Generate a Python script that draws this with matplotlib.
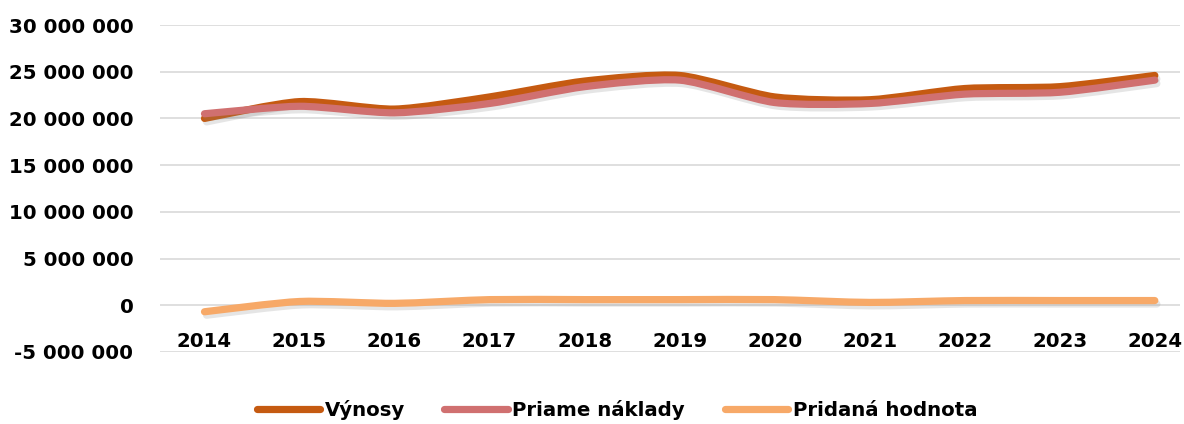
import matplotlib
matplotlib.use("Agg")
import matplotlib.pyplot as plt
import matplotlib.patheffects as pe
from matplotlib.path import Path
from matplotlib.patches import PathPatch
from matplotlib.lines import Line2D
from matplotlib.ticker import FuncFormatter
import numpy as np

years = ['2014', '2015', '2016', '2017', '2018', '2019', '2020', '2021', '2022', '2023', '2024']
vynosy = [20.0, 21.8, 21.0, 22.3, 24.0, 24.6, 22.3, 22.0, 23.2, 23.4, 24.6]
naklady = [20.5, 21.3, 20.6, 21.6, 23.4, 24.1, 21.7, 21.6, 22.6, 22.8, 24.1]
pridana = [-0.7, 0.4, 0.2, 0.6, 0.6, 0.6, 0.6, 0.3, 0.5, 0.5, 0.5]
names = ['Výnosy', 'Priame náklady', 'Pridaná hodnota']
colors = ['#C55A11', '#D07070', '#F7A968']

plt.rcParams['font.family'] = ['DejaVu Sans']
plt.rcParams['font.weight'] = 'bold'


def smooth_path(x, y, k=0.12):
    # excel-like smoothed line as cubic bezier segments
    pts = np.column_stack([x, y])
    n = len(pts)
    verts = [pts[0]]
    codes = [Path.MOVETO]
    for i in range(n - 1):
        p0 = pts[max(i - 1, 0)]
        p1 = pts[i]
        p2 = pts[i + 1]
        p3 = pts[min(i + 2, n - 1)]
        c1 = p1 + (p2 - p0) * k
        c2 = p2 - (p3 - p1) * k
        verts += [c1, c2, p2]
        codes += [Path.CURVE4] * 3
    return Path(verts, codes)


fig = plt.figure(figsize=(11.84, 4.24), dpi=100)
ax = fig.add_axes([0.135, 0.170, 0.862, 0.771])

x = np.arange(len(years))
for vals, c in zip([vynosy, naklady, pridana], colors):
    y = np.array(vals) * 1e6
    patch = PathPatch(smooth_path(x, y), facecolor='none', edgecolor=c, lw=5.2,
                      capstyle='round', joinstyle='round', zorder=3)
    patch.set_path_effects([pe.SimpleLineShadow(offset=(1.5, -2.5), shadow_color='gray', alpha=0.2),
                            pe.Normal()])
    ax.add_patch(patch)

ax.set_xlim(-0.47, 10.27)
ax.set_ylim(-5e6, 30e6)
ax.set_yticks(np.arange(-5e6, 30.1e6, 5e6))
ax.yaxis.set_major_formatter(FuncFormatter(lambda v, p: f"{int(v):,}".replace(',', ' ')))
ax.grid(axis='y', color='#D9D9D9', lw=1.2)
ax.set_axisbelow(True)
ax.set_xticks(x)
ax.set_xticklabels(years)
ax.spines['bottom'].set_position(('data', 0))
for s in ['top', 'right', 'left', 'bottom']:
    ax.spines[s].set_visible(False)
ax.tick_params(length=0, labelsize=14.2)
ax.tick_params(axis='x', pad=19)
ax.tick_params(axis='y', pad=19)

handles = [Line2D([], [], color=c, lw=5.2, solid_capstyle='round') for c in colors]
fig.legend(handles, names, loc='center', bbox_to_anchor=(0.521, 0.033), ncol=3, frameon=False,
           fontsize=14.2, handlelength=3.2, handletextpad=0.25, columnspacing=2.0)

fig.savefig('out.png', dpi=100, facecolor='white')
